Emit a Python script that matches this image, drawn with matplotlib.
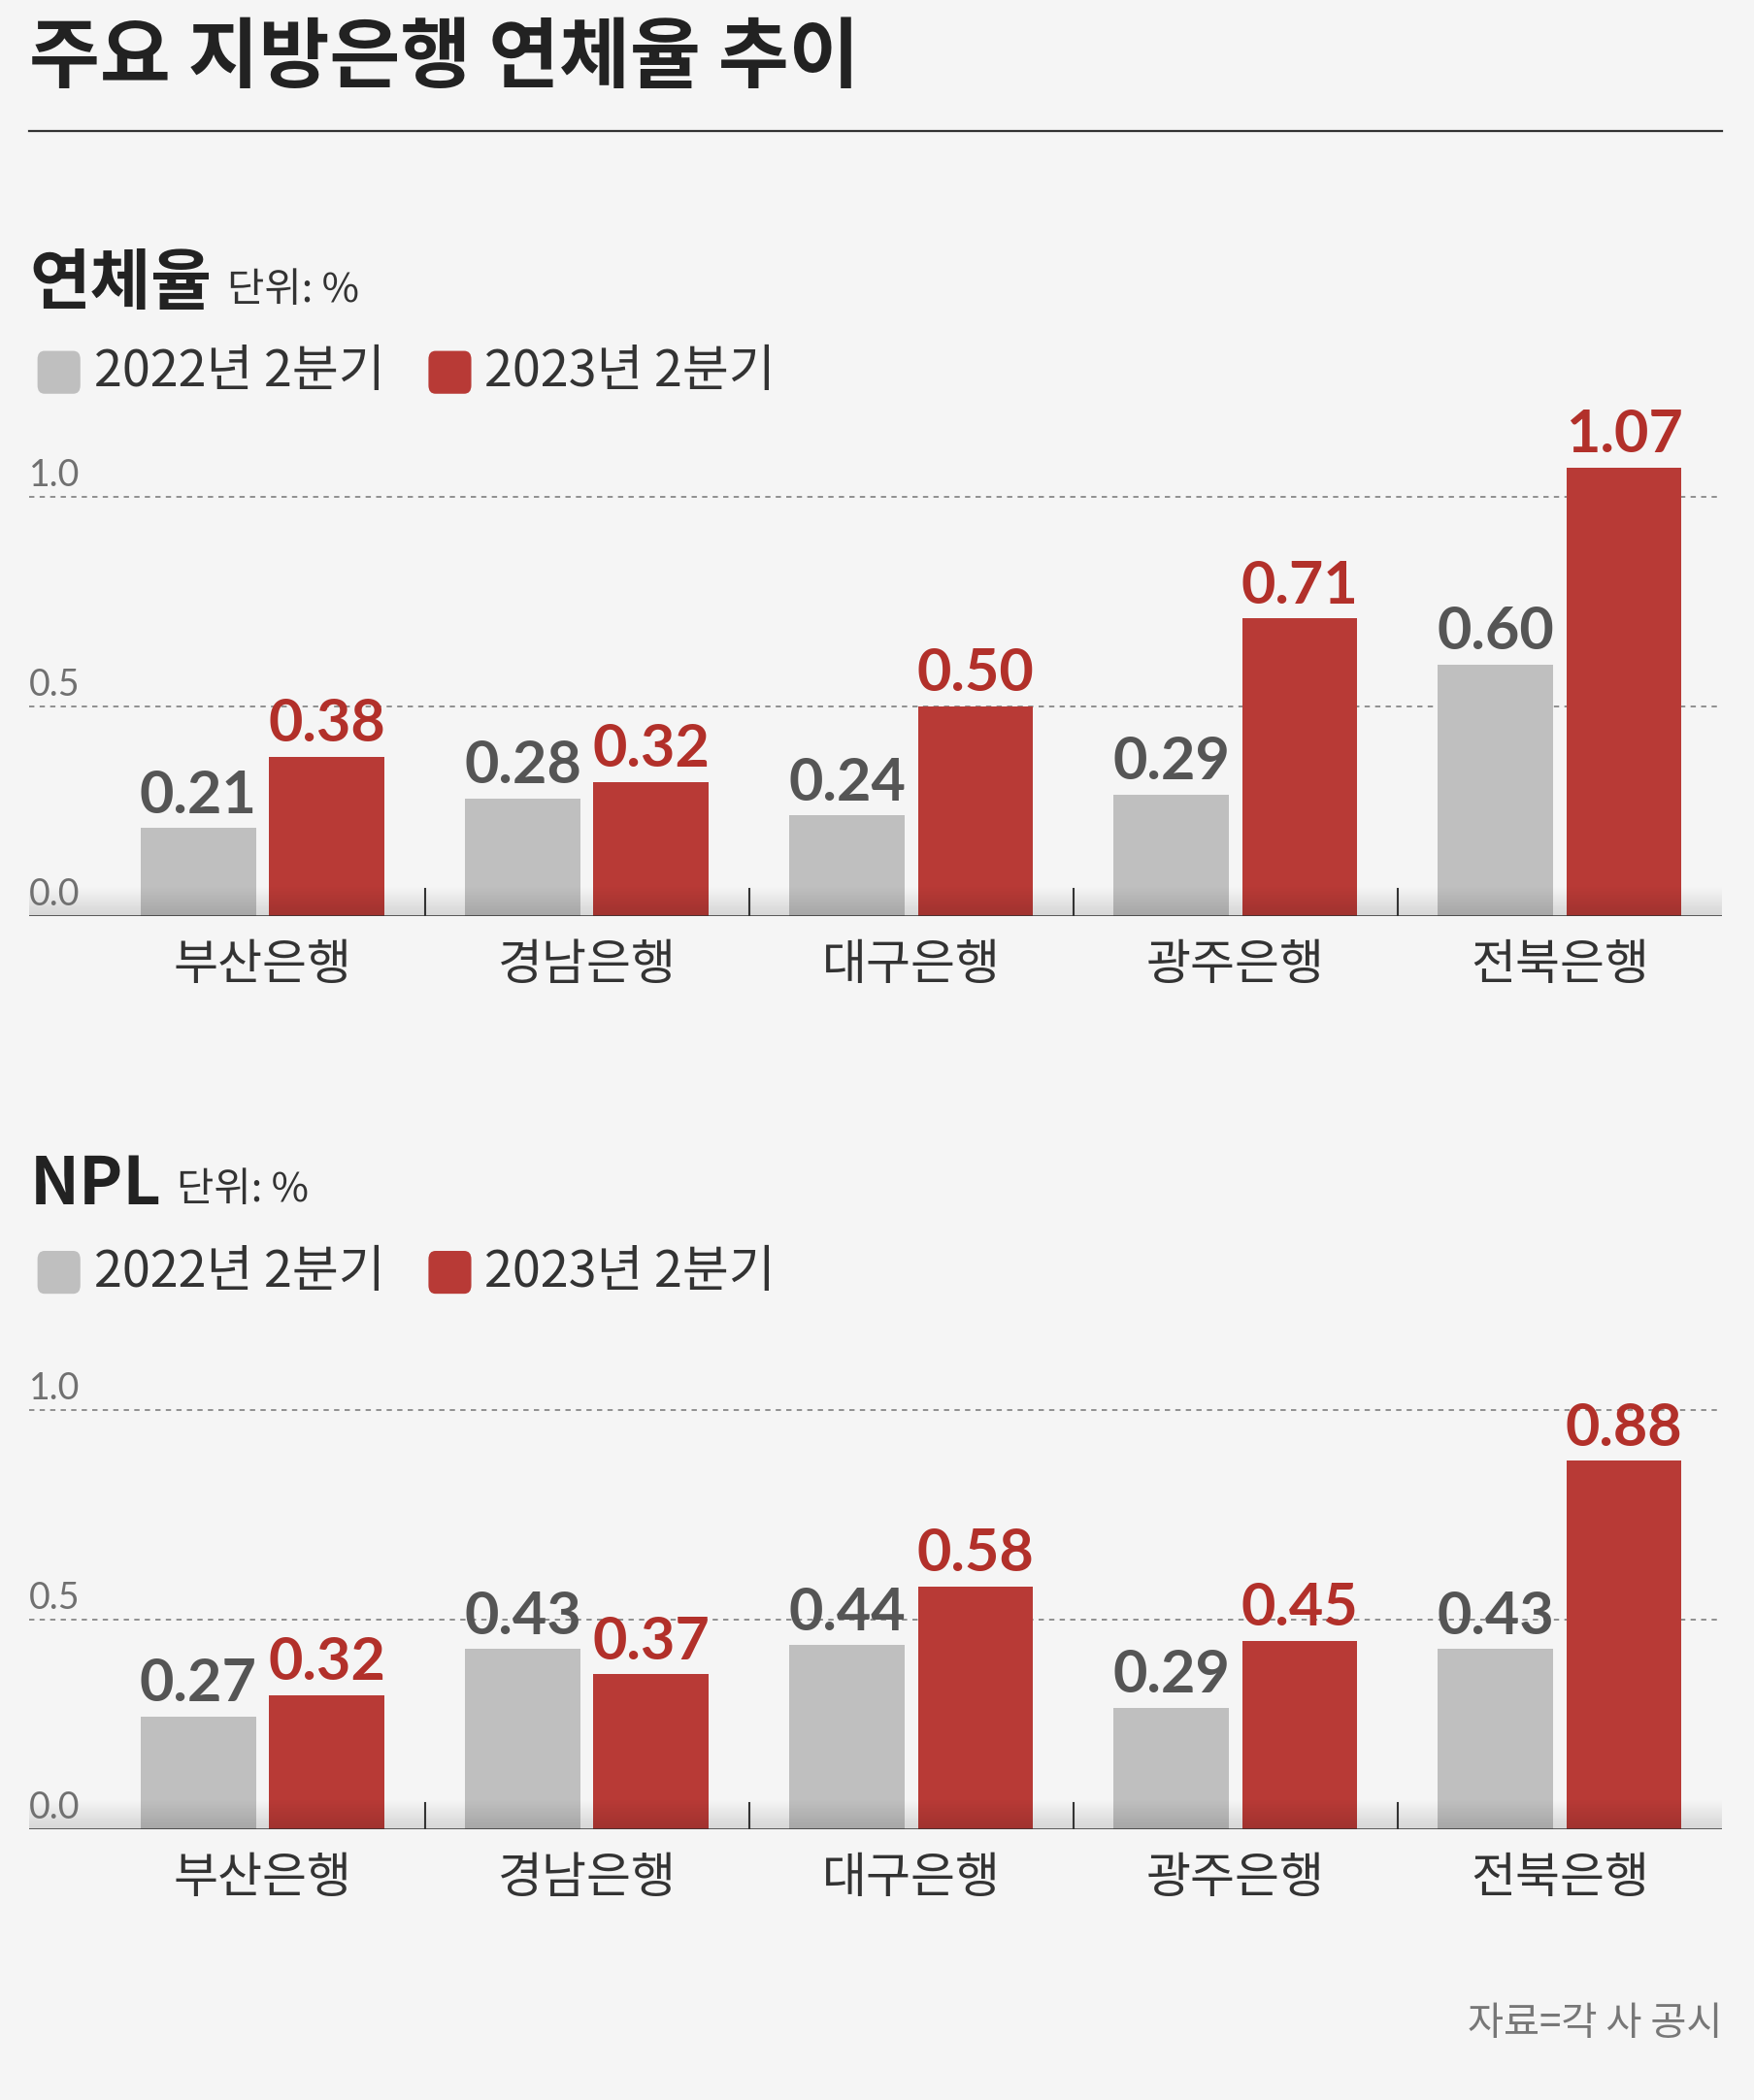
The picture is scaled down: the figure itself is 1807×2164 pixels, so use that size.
import numpy as np
import matplotlib.pyplot as plt
from matplotlib.patches import FancyBboxPatch
from matplotlib.lines import Line2D

plt.rcParams['font.family'] = ['Noto Sans CJK KR', 'DejaVu Sans']

banks = ['부산은행', '경남은행', '대구은행', '광주은행', '전북은행']
legend_labels = ['2022년 2분기', '2023년 2분기']
delinq_2022 = [0.21, 0.28, 0.24, 0.29, 0.60]
delinq_2023 = [0.38, 0.32, 0.50, 0.71, 1.07]
npl_2022 = [0.27, 0.43, 0.44, 0.29, 0.43]
npl_2023 = [0.32, 0.37, 0.58, 0.45, 0.88]
yticks = [0.0, 0.5, 1.0]

BG = '#f5f5f5'
GRAY = '#bfbfbf'
RED = '#b83a36'
GRAY_TXT = '#555555'
RED_TXT = '#b2302a'

W, H = 1310, 1568  # layout units (scaled reference)


def fx(x):
    return x / W


def fy(y):
    return 1 - y / H


fig = plt.figure(figsize=(18.07, 21.64), dpi=100, facecolor=BG)

fig.text(fx(22), fy(44), '주요 지방은행 연체율 추이', fontsize=57, fontweight='heavy',
         color='#222222', ha='left', va='center')
fig.add_artist(Line2D([fx(22), fx(1286)], [fy(98), fy(98)], color='#333333', lw=1.6))


def panel(ytop, base, title, title_w, v22, v23):
    # header + legend
    fig.text(fx(22), fy(ytop), title, fontsize=49, fontweight='heavy', color='#222222',
             ha='left', va='center')
    fig.text(fx(title_w), fy(ytop + 4), '단위: %', fontsize=30, color='#333333',
             ha='left', va='center')
    ly = ytop + 65
    for sx, col, lab in [(28, GRAY, legend_labels[0]), (320, RED, legend_labels[1])]:
        fig.add_artist(FancyBboxPatch((fx(sx), fy(ly + 16)), fx(32), 32 / H,
                                      boxstyle='round,pad=0,rounding_size=0.004',
                                      transform=fig.transFigure, fc=col, ec='none'))
        fig.text(fx(sx + 42), fy(ly), lab, fontsize=37.5, color='#333333',
                 ha='left', va='center')

    ax = fig.add_axes([fx(22), fy(base), fx(1286) - fx(22), 1.15 * 313 / H])
    ax.set_facecolor('none')
    ax.set_xlim(-0.719, 4.5)
    ax.set_ylim(0, 1.15)
    x = np.arange(len(banks))
    ax.bar(x - 0.198, v22, width=0.355, color=GRAY, zorder=2)
    ax.bar(x + 0.198, v23, width=0.355, color=RED, zorder=2)

    # soft shadow band above baseline
    grad = np.linspace(0.13, 0, 64).reshape(-1, 1)
    rgba = np.zeros((64, 1, 4))
    rgba[..., 3] = grad
    ax.imshow(rgba, extent=(-0.719, 4.5, 0, 0.07), origin='lower', aspect='auto', zorder=3)

    for v in yticks[1:]:
        ax.axhline(v, color='#888888', lw=1.3, ls=(0, (3, 3)), zorder=1)
    ax.axhline(0, color='#333333', lw=1.8, zorder=4)
    for t in yticks:
        ax.annotate(f'{t:.1f}', (0, t), xycoords=('axes fraction', 'data'),
                    xytext=(0, 3), textcoords='offset points', fontsize=27,
                    family=['Lato', 'DejaVu Sans'], fontweight='normal', color='#707070',
                    ha='left', va='bottom')
    for i in range(len(banks) - 1):
        ax.plot([i + 0.5, i + 0.5], [0, 0.064], color='#333333', lw=1.5, zorder=4)

    for xi, v in zip(x - 0.198, v22):
        ax.annotate(f'{v:.2f}', (xi, v), xytext=(0, 4), textcoords='offset points',
                    ha='center', va='bottom', fontsize=44, fontweight='bold',
                    family=['Lato', 'DejaVu Sans'], color=GRAY_TXT)
    for xi, v in zip(x + 0.198, v23):
        ax.annotate(f'{v:.2f}', (xi, v), xytext=(0, 4), textcoords='offset points',
                    ha='center', va='bottom', fontsize=44, fontweight='bold',
                    family=['Lato', 'DejaVu Sans'], color=RED_TXT)

    for xi, name in zip(x, banks):
        ax.text(xi, -37 / 313, name, fontsize=36, color='#333333',
                ha='center', va='center')
    for s in ax.spines.values():
        s.set_visible(False)
    ax.set_xticks([])
    ax.set_yticks([])
    return ax


panel(213, 684, '연체율', 170, delinq_2022, delinq_2023)
panel(885, 1366, 'NPL', 132, npl_2022, npl_2023)

fig.text(fx(1286), fy(1511), '자료=각 사 공시', fontsize=29, color='#777777',
         ha='right', va='center')

fig.savefig('out.png', dpi=100, facecolor=BG)
